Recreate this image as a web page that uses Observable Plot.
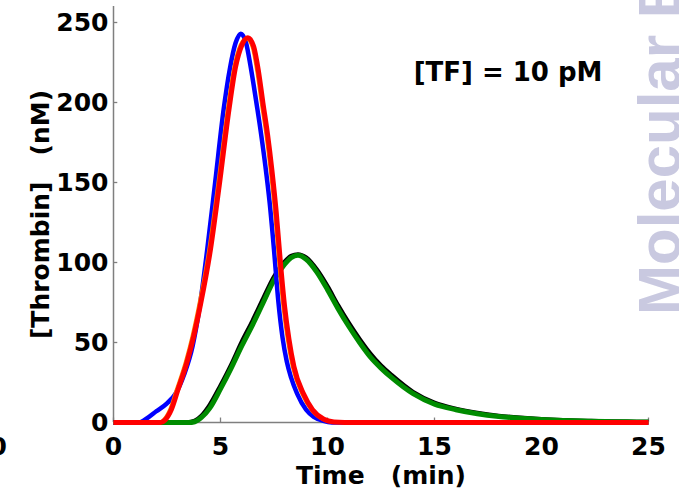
<!DOCTYPE html>
<html>
<head>
<meta charset="utf-8">
<script src="https://cdn.jsdelivr.net/npm/d3@7"></script>
<script src="https://cdn.jsdelivr.net/npm/@observablehq/plot@0.6"></script>
<style>
  html, body { margin: 0; padding: 0; background: #fff; }
  #chart { position: relative; width: 679px; height: 494px; overflow: hidden; }
</style>
</head>
<body>
<div id="chart"></div>
<script>
// ---- data ----
const xTicks = [0, 5, 10, 15, 20, 25];
const yTicks = [0, 50, 100, 150, 200, 250];

const blueT = [0, 1.2, 1.5, 2.0, 2.5, 2.9, 3.3, 3.7, 4.0, 4.37, 4.75, 5.15, 5.45, 5.7, 5.95, 6.2, 6.4, 6.63, 6.9, 7.1, 7.3, 7.5, 7.7, 7.9, 8.1, 8.3, 8.58, 9.0, 9.36, 9.8, 10.2, 25];
const blueY = [0, 0, 2, 7, 12, 18, 30, 48, 70, 107, 150, 196, 222, 237, 243, 237, 223, 204, 180, 160, 137, 108, 76, 53, 38, 28, 18, 8, 3.5, 1, 0, 0];

const redT = [0, 2.2, 2.4, 2.7, 3.0, 3.44, 3.75, 4.07, 4.53, 4.94, 5.4, 5.7, 6.0, 6.28, 6.55, 6.78, 6.98, 7.2, 7.4, 7.6, 7.8, 8.0, 8.2, 8.43, 8.89, 9.3, 9.83, 10.3, 10.8, 25];
const redY = [0, 0, 1.5, 8, 20, 38, 54, 74, 108, 148, 196, 222, 236, 240.5, 235, 219, 200, 180, 158, 132, 100, 72, 52, 35, 17.6, 8, 2, 0.3, 0, 0];

const orangeT = [0, 2.12, 2.32, 2.62, 2.92, 3.36, 3.67, 3.99, 4.45, 4.86, 5.32, 5.62, 5.92, 6.2, 6.47, 6.7, 6.9, 7.12, 7.32, 7.52, 7.72, 7.92, 8.12, 8.35, 8.81, 9.22, 9.75, 10.22, 10.72, 25];
const orangeY = [0, 0, 1.5, 8, 20, 38, 54, 74, 108, 148, 196, 222, 236, 240, 235, 219, 200, 180, 158, 132, 100, 72, 52, 35, 17.6, 8, 2, 0.3, 0, 0];

const greenT = [0, 3.5, 3.8, 4.1, 4.5, 5.0, 5.5, 6.0, 6.5, 7.0, 7.5, 8.0, 8.3, 8.62, 9.0, 9.5, 10.0, 10.5, 11, 11.5, 12, 12.5, 13, 14, 15, 16, 17, 18, 19, 20, 21, 22, 23, 24, 25];
const greenY = [0, 0, 0.5, 3, 9, 21, 34, 48, 61, 75, 89, 99, 103, 104.5, 102, 94, 83, 71, 60, 50, 41, 34, 28, 18, 11.5, 8, 5.5, 3.8, 2.7, 1.9, 1.3, 0.9, 0.6, 0.4, 0.25];

const blackT = [0, 3.45, 3.8, 4.1, 4.5, 5.0, 5.5, 6.0, 6.5, 7.0, 7.5, 8.0, 8.3, 8.62, 9.0, 9.5, 10.0, 10.5, 11, 11.5, 12, 12.5, 13, 14, 15, 16, 17, 18, 19, 20, 21, 22, 23, 24, 25];
const blackY = [0, 0, 1, 4, 11, 23, 36, 50.5, 63.5, 77.5, 91, 100.5, 104, 105, 103, 95.5, 85, 73, 62, 52, 43, 35.5, 29.5, 19, 12.3, 8.5, 5.9, 4.1, 2.9, 2.0, 1.4, 1.0, 0.65, 0.45, 0.3];

const xLabel = "Time\u00a0\u00a0\u00a0(min)";
const yLabel = "[Thrombin]\u00a0\u00a0\u00a0(nM)";
const tfLabel = "[TF] = 10 pM";

// ---- build rows ----
const rows = (T, Y) => T.map((t, i) => ({t, y: Y[i]}));
const blue = rows(blueT, blueY);
const red = rows(redT, redY);
const orange = rows(orangeT, orangeY);
const green = rows(greenT, greenY);
const black = rows(blackT, blackY);

const axisColor = "#7f7f7f";
const lineOpts = (stroke, w) => ({x: "t", y: "y", stroke, strokeWidth: w, curve: "monotone-x", strokeLinejoin: "round", strokeLinecap: "butt"});

const plot = Plot.plot({
  width: 679,
  height: 494,
  marginLeft: 113,
  marginRight: 31,
  marginTop: 6,
  marginBottom: 72,
  style: {fontFamily: "DejaVu Sans", fontSize: "25px", fontWeight: "bold", color: "#000", background: "#fff"},
  x: {domain: [0, 25], ticks: xTicks, tickSize: 0, tickPadding: 15, label: null},
  y: {domain: [0, 260], ticks: yTicks, tickSize: 0, tickPadding: 5, label: null},
  marks: [
    Plot.ruleX(xTicks, {x: d => d, y1: 0, y2: 2.8, stroke: axisColor, strokeWidth: 1.3}),
    Plot.ruleY(yTicks, {y: d => d, x1: 0, x2: 0.2, stroke: axisColor, strokeWidth: 1.3}),
    Plot.ruleX([0], {stroke: axisColor, strokeWidth: 1.5}),
    Plot.ruleY([0], {stroke: axisColor, strokeWidth: 1.5}),
    Plot.line(black, lineOpts("#000000", 4.5)),
    Plot.line(green, lineOpts("#008c00", 5)),
    Plot.line(blue, lineOpts("#0000ff", 4.5)),
    Plot.line(orange, lineOpts("#ff8000", 3)),
    Plot.line(red, lineOpts("#ff0000", 5)),
    Plot.text([xLabel], {text: d => d, frameAnchor: "bottom", dy: 53, textAnchor: "middle", lineAnchor: "middle", fontSize: 25, fontWeight: "bold", fill: "#000"}),
    Plot.text([yLabel], {text: d => d, frameAnchor: "left", dx: -73, rotate: -90, textAnchor: "middle", lineAnchor: "middle", fontSize: 25, fontWeight: "bold", fill: "#000"}),
    Plot.text([tfLabel], {text: d => d, frameAnchor: "top-right", textAnchor: "end", dx: -46, dy: 66, lineAnchor: "middle", fontSize: 26, fontWeight: "bold", fill: "#000"})
  ]
});

document.getElementById("chart").appendChild(plot);

// decorations outside the plot frame: cropped neighbour tick label and watermark
const svg = d3.select(plot);
svg.append("text")
  .attr("x", 7).attr("y", 455)
  .attr("text-anchor", "end")
  .attr("font-family", "DejaVu Sans").attr("font-weight", "bold").attr("font-size", 25)
  .attr("fill", "#000")
  .text("0");
svg.append("text")
  .attr("transform", "translate(680,315) rotate(-90)")
  .attr("text-anchor", "start")
  .attr("font-family", "Liberation Sans, Arial, sans-serif").attr("font-weight", "bold").attr("font-size", 60)
  .attr("fill", "#c9c9e0")
  .text("Molecular B");
</script>
</body>
</html>
